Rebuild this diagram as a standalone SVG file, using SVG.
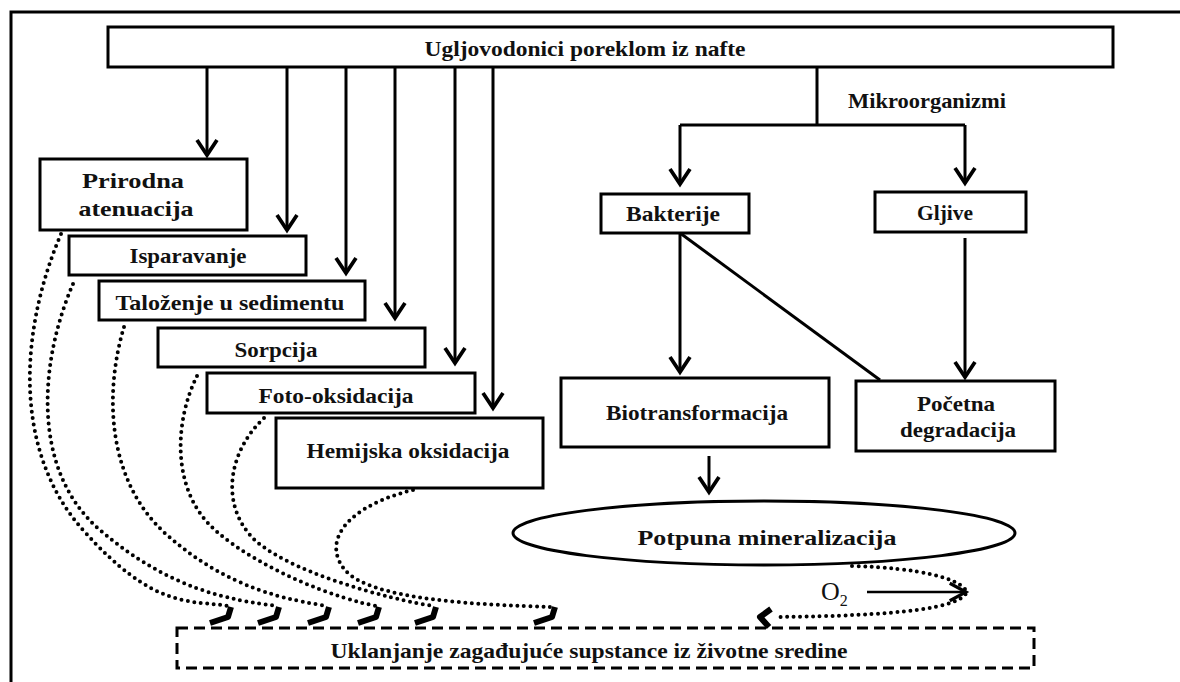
<svg xmlns="http://www.w3.org/2000/svg" xmlns:xlink="http://www.w3.org/1999/xlink" width="1180" height="682" viewBox="0 0 1180 682">
<style>
.box{fill:#fff;stroke:#000;stroke-width:3}
.t{font-family:"Liberation Serif",serif;font-weight:bold;font-size:22px;text-anchor:middle;fill:#111}
.ln{fill:none;stroke:#000;stroke-width:3}
.dot{fill:none;stroke:#000;stroke-width:4;stroke-linecap:round;stroke-dasharray:0 6.5}
.hook{fill:none;stroke:#000;stroke-width:6;stroke-linejoin:round}
</style>
<defs>
<marker id="ah" markerUnits="userSpaceOnUse" markerWidth="30" markerHeight="30" refX="0" refY="0" viewBox="-16 -12 20 24" orient="auto" overflow="visible">
<path d="M -12 -8 L 0 0 L -12 8" fill="none" stroke="#000" stroke-width="3"/>
</marker>
<marker id="ah2" markerUnits="userSpaceOnUse" markerWidth="30" markerHeight="30" refX="0" refY="0" viewBox="-16 -12 20 24" orient="auto" overflow="visible">
<path d="M -13 -7 L 0 0 L -13 7" fill="none" stroke="#000" stroke-width="2.5"/>
</marker>
<path id="hk" class="hook" d="M0 0 L-3 10 L-21 16"/>
</defs>
<rect width="1180" height="682" fill="#fff"/>
<path class="ln" d="M1180 12 H11 V682"/>

<g id="connectors">
<line class="ln" x1="207" y1="67" x2="207" y2="155" marker-end="url(#ah)"/>
<line class="ln" x1="287" y1="67" x2="287" y2="230" marker-end="url(#ah)"/>
<line class="ln" x1="346" y1="67" x2="346" y2="273" marker-end="url(#ah)"/>
<line class="ln" x1="395" y1="67" x2="395" y2="318" marker-end="url(#ah)"/>
<line class="ln" x1="455" y1="67" x2="455" y2="363" marker-end="url(#ah)"/>
<line class="ln" x1="493" y1="67" x2="493" y2="408" marker-end="url(#ah)"/>
<path class="ln" d="M817 67 V125 M680 125 H965"/>
<line class="ln" x1="680" y1="125" x2="680" y2="184" marker-end="url(#ah)"/>
<line class="ln" x1="965" y1="125" x2="965" y2="183" marker-end="url(#ah)"/>
<line class="ln" x1="680" y1="233" x2="680" y2="372" marker-end="url(#ah)"/>
<line class="ln" x1="680" y1="233" x2="880" y2="380"/>
<line class="ln" x1="965" y1="238" x2="965" y2="377" marker-end="url(#ah)"/>
<line class="ln" x1="709" y1="456" x2="709" y2="492" marker-end="url(#ah)"/>

<path class="dot" d="M61 234 C20 330, 12 450, 83 530 S190 600, 229 606"/>
<path class="dot" d="M73 284 C40 360, 30 470, 100 530 S230 600, 277 606"/>
<path class="dot" d="M124 327 C105 390, 105 480, 167 535 S290 600, 327 606"/>
<path class="dot" d="M197 376 C175 420, 170 490, 215 530 S340 600, 377 606"/>
<path class="dot" d="M264 418 C230 450, 220 500, 250 535 S390 600, 434 606"/>
<path class="dot" d="M413 490 C350 505, 320 540, 345 570 C370 600, 480 605, 553 607"/>
<path class="dot" d="M852 566 C920 568, 960 578, 967 592 C960 608, 900 616, 774 617"/>

<use xlink:href="#hk" x="231" y="607"/>
<use xlink:href="#hk" x="279" y="607"/>
<use xlink:href="#hk" x="329" y="607"/>
<use xlink:href="#hk" x="379" y="607"/>
<use xlink:href="#hk" x="436" y="607"/>
<use xlink:href="#hk" x="555" y="607"/>
<path class="hook" d="M771 609 L760 617 L769 627"/>

<line x1="867" y1="592" x2="966" y2="592" stroke="#000" stroke-width="2.5" marker-end="url(#ah2)"/>
<text x="821" y="600" font-family="Liberation Serif,serif" font-size="26" fill="#111">O<tspan font-size="16" dy="6">2</tspan></text>
<text class="t" x="927" y="108" textLength="158" lengthAdjust="spacingAndGlyphs">Mikroorganizmi</text>
</g>

<g id="n-top"><rect class="box" x="108" y="27" width="1005" height="40" stroke-width="3.5"/><text class="t" x="585" y="56" textLength="321" lengthAdjust="spacingAndGlyphs">Ugljovodonici poreklom iz nafte</text></g>
<g id="n-prirodna"><rect class="box" x="40" y="159" width="207" height="71"/><text class="t" x="133" y="188" textLength="102" lengthAdjust="spacingAndGlyphs">Prirodna</text><text class="t" x="136" y="216" textLength="115" lengthAdjust="spacingAndGlyphs">atenuacija</text></g>
<g id="n-isparavanje"><rect class="box" x="69" y="236" width="237" height="39"/><text class="t" x="188" y="263" textLength="117" lengthAdjust="spacingAndGlyphs">Isparavanje</text></g>
<g id="n-talozenje"><rect class="box" x="99" y="281" width="266" height="39"/><text class="t" x="230" y="310" textLength="229" lengthAdjust="spacingAndGlyphs">Taloženje u sedimentu</text></g>
<g id="n-sorpcija"><rect class="box" x="158" y="328" width="267" height="39"/><text class="t" x="276" y="357" textLength="83" lengthAdjust="spacingAndGlyphs">Sorpcija</text></g>
<g id="n-foto"><rect class="box" x="207" y="373" width="268" height="40"/><text class="t" x="336" y="403" textLength="155" lengthAdjust="spacingAndGlyphs">Foto-oksidacija</text></g>
<g id="n-hemijska"><rect class="box" x="276" y="418" width="267" height="70"/><text class="t" x="408" y="458" textLength="203" lengthAdjust="spacingAndGlyphs">Hemijska oksidacija</text></g>
<g id="n-bakterije"><rect class="box" x="601" y="194" width="148" height="39"/><text class="t" x="673" y="221" textLength="94" lengthAdjust="spacingAndGlyphs">Bakterije</text></g>
<g id="n-gljive"><rect class="box" x="875" y="192" width="151" height="40"/><text class="t" x="945" y="220" textLength="56" lengthAdjust="spacingAndGlyphs">Gljive</text></g>
<g id="n-biotransformacija"><rect class="box" x="561" y="378" width="268" height="69"/><text class="t" x="697" y="420" textLength="182" lengthAdjust="spacingAndGlyphs">Biotransformacija</text></g>
<g id="n-pocetna"><rect class="box" x="856" y="381" width="199" height="70"/><text class="t" x="956" y="411" textLength="78" lengthAdjust="spacingAndGlyphs">Početna</text><text class="t" x="958" y="437" textLength="116" lengthAdjust="spacingAndGlyphs">degradacija</text></g>
<g id="n-mineralizacija"><ellipse cx="764" cy="533" rx="251" ry="32" fill="#fff" stroke="#000" stroke-width="3"/><text class="t" x="767" y="545" textLength="259" lengthAdjust="spacingAndGlyphs">Potpuna mineralizacija</text></g>
<g id="n-uklanjanje"><rect x="177" y="628" width="857" height="40" fill="none" stroke="#000" stroke-width="3" stroke-dasharray="11 6"/><text class="t" x="589" y="658" textLength="517" lengthAdjust="spacingAndGlyphs">Uklanjanje zagađujuće supstance iz životne sredine</text></g>
</svg>
